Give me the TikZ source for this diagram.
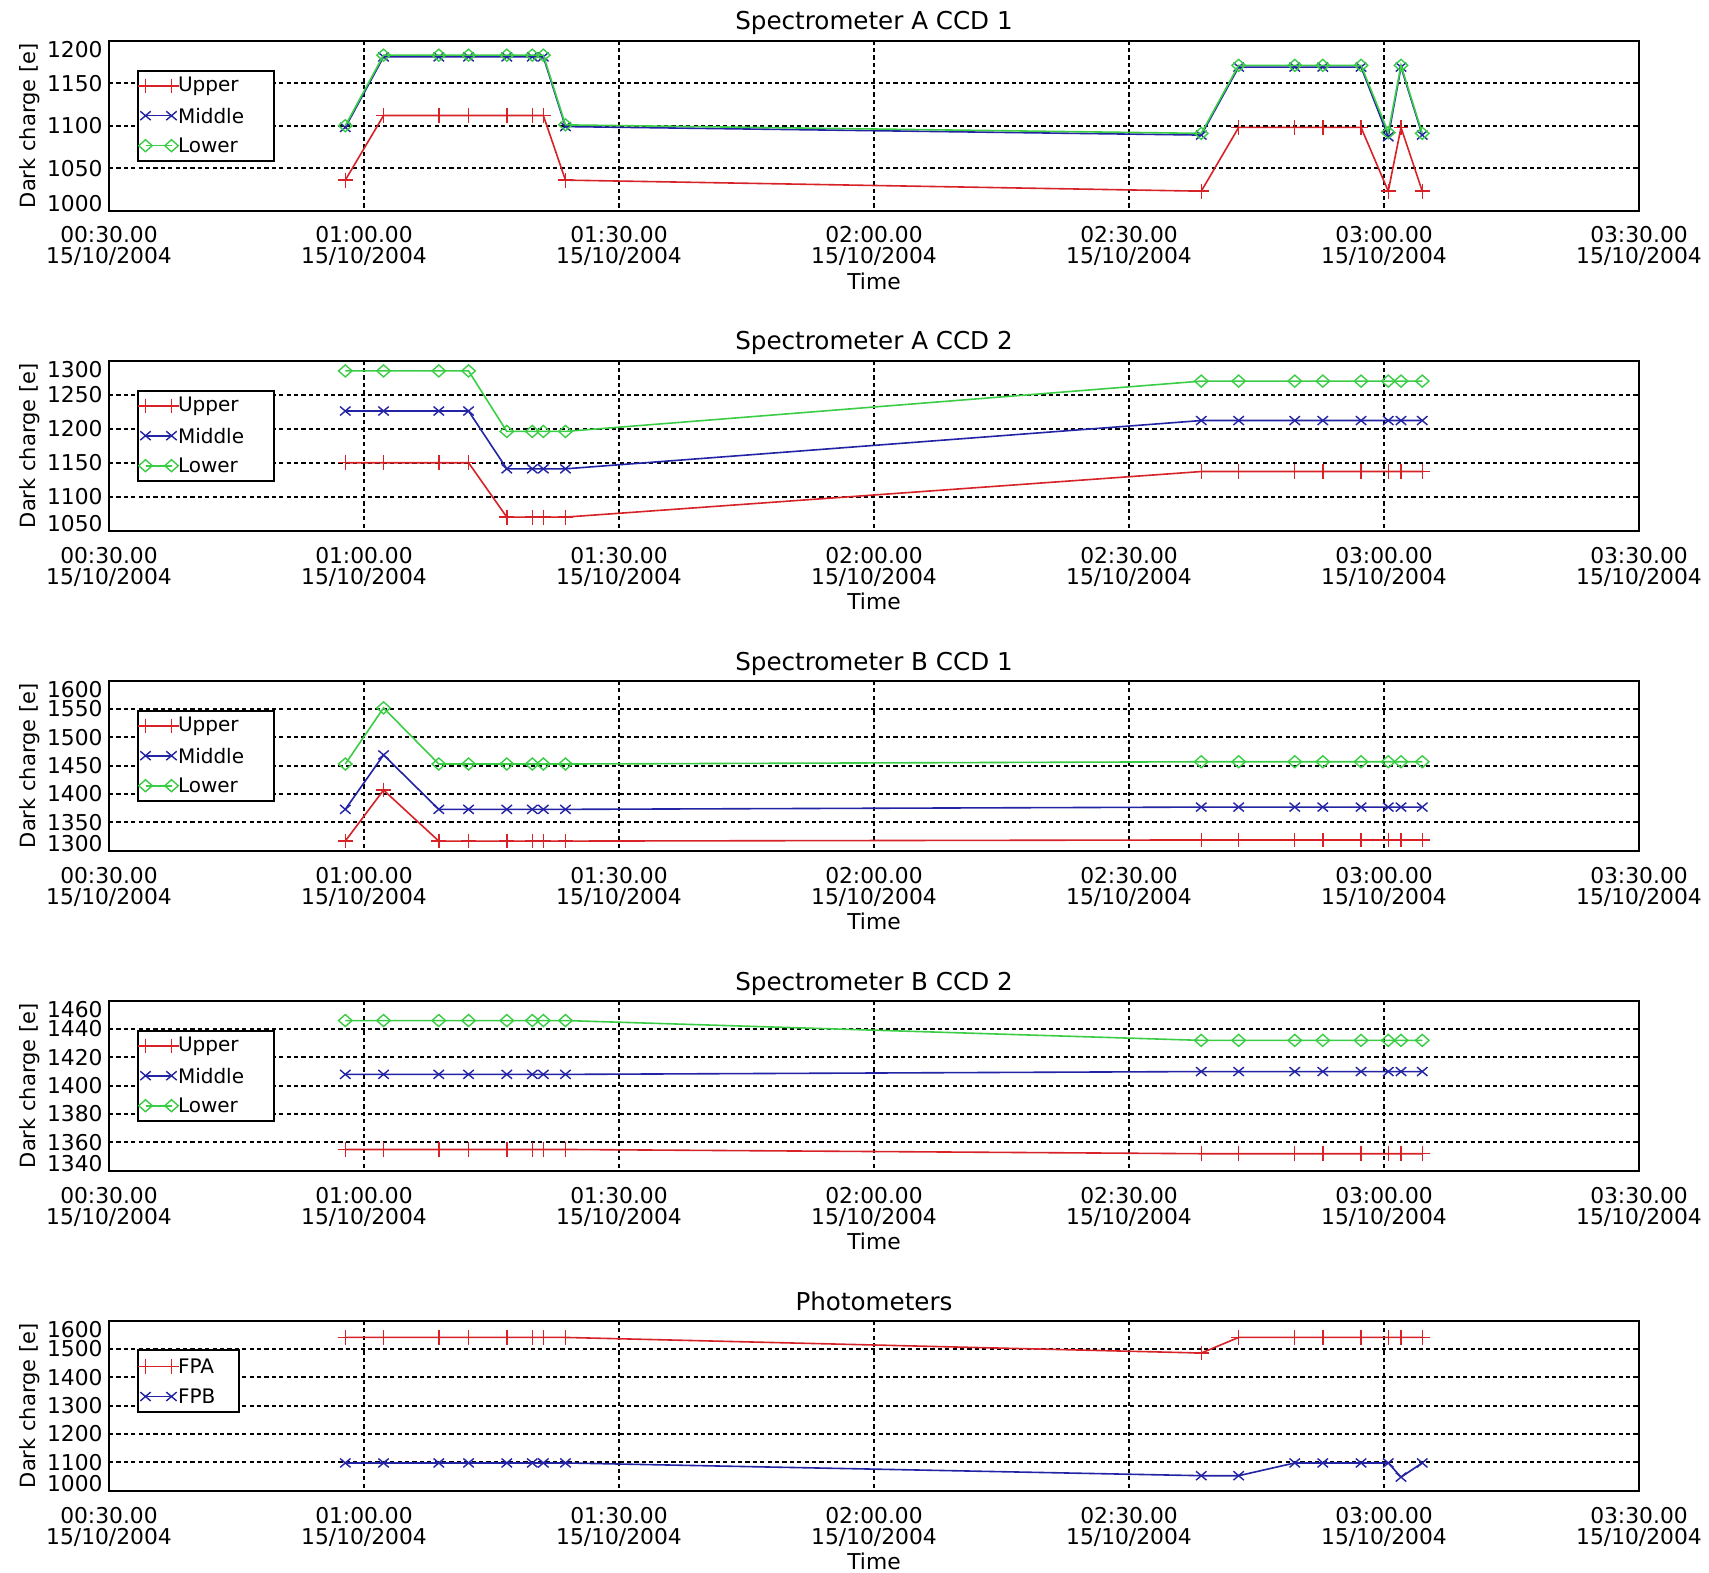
\documentclass[tikz,border=0pt]{standalone}
\usepackage{fontspec}
\setmainfont{DejaVu Sans}
\usetikzlibrary{plotmarks}
\definecolor{upperred}{RGB}{215,35,40}
\definecolor{middleblue}{RGB}{35,35,165}
\definecolor{lowergreen}{RGB}{60,205,70}
\tikzstyle{frame} = [draw=black, line width=1pt]
\tikzstyle{gridline} = [draw=black, line width=0.9pt, dash pattern=on 2.1pt off 1.6pt]
\tikzstyle{ticklabel} = [inner sep=0pt, anchor=base, font=\fontsize{10.9}{13}\selectfont]
\tikzstyle{valuelabel} = [inner sep=0pt, anchor=east, xshift=-3pt, font=\fontsize{10.9}{13}\selectfont]
\tikzstyle{titlelabel} = [inner sep=0pt, anchor=base, font=\fontsize{12.3}{14}\selectfont]
\tikzstyle{axislabel} = [inner sep=0pt, rotate=90, font=\fontsize{10.5}{13}\selectfont]
\tikzstyle{legendbox} = [draw=black, line width=1pt, fill=white]
\tikzstyle{legendtext} = [inner sep=0pt, anchor=west, font=\fontsize{10}{12}\selectfont]
\tikzstyle{upperline} = [draw=upperred, line width=0.8pt, mark=+, mark size=3.7pt, mark options={solid, line width=0.7pt}]
\tikzstyle{middleline} = [draw=middleblue, line width=0.8pt, mark=x, mark size=3.7pt, mark options={solid, line width=0.7pt, yscale=0.85}]
\tikzstyle{lowerline} = [draw=lowergreen, line width=0.8pt, mark=diamond, mark size=3pt, mark options={solid, line width=0.7pt, xscale=1.5}]
\tikzset{datascope/.style 2 args={shift={(-146,{210.7+170*(#1/(#2-#1))})}, x={(8.5,0)}, y={(0,{-170/(#2-#1)})}}}

% axes, grid and labels of one panel
\newcommand{\panelaxes}[5]{%
  \node[titlelabel] (#1title) at (874,30) {#2};
  \node[axislabel] (#1dark) at (29.6,125.7) {Dark charge [e]};
  \node[ticklabel] (#1time) at (874,289.7) {Time};
  \foreach \x/\tm [count=\i] in {109/00:30.00,364/01:00.00,619/01:30.00,874/02:00.00,1129/02:30.00,1384/03:00.00,1639/03:30.00} {
    \node[ticklabel] (#1hour\i) at (\x,243) {\tm};
    \node[ticklabel] (#1date\i) at (\x,264) {15/10/2004};
  }
  \foreach \x in {364,619,874,1129,1384}
    \draw[gridline] (\x,40.7) -- (\x,210.7);
  \begin{scope}[datascope={#3}{#4}]
    \foreach \v in {#5} {
      \draw[gridline] (30,\v) -- (210,\v);
      \node[valuelabel] (#1val\v) at (30,\v) {\v};
    }
    \node[valuelabel, yshift=-4.25pt] (#1valtop) at (30,#4) {#4};
    \node[valuelabel, yshift=3.5pt] (#1valbot) at (30,#3) {#3};
  \end{scope}
  \draw[frame] (109,40.7) rectangle (1639,210.7);
}

% legend with the three CCD rows
\newcommand{\threelegend}[1]{%
  \draw[legendbox] (138.3,70.7) rectangle (274.3,161.3);
  \draw[upperline] plot coordinates {(145.5,86) (171.5,86)};
  \node[legendtext] (#1upper) at (177.6,86) {Upper};
  \draw[middleline] plot coordinates {(145.5,115.7) (171.5,115.7)};
  \node[legendtext] (#1middle) at (177.6,115.7) {Middle};
  \draw[lowerline] plot coordinates {(145.5,145.7) (171.5,145.7)};
  \node[legendtext] (#1lower) at (177.6,145.7) {Lower};
}

\begin{document}
\begin{tikzpicture}[x=0.5pt, y=-0.5pt]
  \useasboundingbox (0,0) rectangle (1709,1573);
  \fill[white] (0,0) rectangle (1709,1573);

  % Spectrometer A CCD 1
  \begin{scope}
    \panelaxes{a}{Spectrometer A CCD 1}{1000}{1200}{1050,1100,1150}
    \threelegend{a}
    \begin{scope}[datascope={1000}{1200}]
      \draw[upperline] plot coordinates {(57.8,1036) (62.3,1112) (68.8,1112) (72.3,1112) (76.8,1112) (79.8,1112) (81.1,1112) (83.7,1036) (158.5,1023) (162.9,1098) (169.5,1098) (172.8,1098) (177.3,1098) (180.5,1023) (182,1098) (184.5,1023)};
      \draw[middleline] plot coordinates {(57.8,1098) (62.3,1181) (68.8,1181) (72.3,1181) (76.8,1181) (79.8,1181) (81.1,1181) (83.7,1099) (158.5,1089) (162.9,1169) (169.5,1169) (172.8,1169) (177.3,1169) (180.5,1087) (182,1169) (184.5,1089)};
      \draw[lowerline] plot coordinates {(57.8,1100) (62.3,1183) (68.8,1183) (72.3,1183) (76.8,1183) (79.8,1183) (81.1,1183) (83.7,1101) (158.5,1091) (162.9,1171) (169.5,1171) (172.8,1171) (177.3,1171) (180.5,1092) (182,1171) (184.5,1091)};
    \end{scope}
  \end{scope}

  % Spectrometer A CCD 2
  \begin{scope}[shift={(0,320)}]
    \panelaxes{b}{Spectrometer A CCD 2}{1050}{1300}{1100,1150,1200,1250}
    \threelegend{b}
    \begin{scope}[datascope={1050}{1300}]
      \draw[upperline] plot coordinates {(57.8,1150) (62.3,1150) (68.8,1150) (72.3,1150) (76.8,1070) (79.8,1070) (81.1,1070) (83.7,1070) (158.5,1137) (162.9,1137) (169.5,1137) (172.8,1137) (177.3,1137) (180.5,1137) (182,1137) (184.5,1137)};
      \draw[middleline] plot coordinates {(57.8,1226) (62.3,1226) (68.8,1226) (72.3,1226) (76.8,1141) (79.8,1141) (81.1,1141) (83.7,1141) (158.5,1212) (162.9,1212) (169.5,1212) (172.8,1212) (177.3,1212) (180.5,1212) (182,1212) (184.5,1212)};
      \draw[lowerline] plot coordinates {(57.8,1285) (62.3,1285) (68.8,1285) (72.3,1285) (76.8,1196) (79.8,1196) (81.1,1196) (83.7,1196) (158.5,1270) (162.9,1270) (169.5,1270) (172.8,1270) (177.3,1270) (180.5,1270) (182,1270) (184.5,1270)};
    \end{scope}
  \end{scope}

  % Spectrometer B CCD 1
  \begin{scope}[shift={(0,640)}]
    \panelaxes{c}{Spectrometer B CCD 1}{1300}{1600}{1350,1400,1450,1500,1550}
    \threelegend{c}
    \begin{scope}[datascope={1300}{1600}]
      \draw[upperline] plot coordinates {(57.8,1317) (62.3,1407) (68.8,1317) (72.3,1317) (76.8,1317) (79.8,1317) (81.1,1317) (83.7,1317) (158.5,1319) (162.9,1319) (169.5,1319) (172.8,1319) (177.3,1319) (180.5,1319) (182,1319) (184.5,1319)};
      \draw[middleline] plot coordinates {(57.8,1373) (62.3,1469) (68.8,1373) (72.3,1373) (76.8,1373) (79.8,1373) (81.1,1373) (83.7,1373) (158.5,1377) (162.9,1377) (169.5,1377) (172.8,1377) (177.3,1377) (180.5,1377) (182,1377) (184.5,1377)};
      \draw[lowerline] plot coordinates {(57.8,1453) (62.3,1552) (68.8,1453) (72.3,1453) (76.8,1453) (79.8,1453) (81.1,1453) (83.7,1453) (158.5,1457) (162.9,1457) (169.5,1457) (172.8,1457) (177.3,1457) (180.5,1457) (182,1457) (184.5,1457)};
    \end{scope}
  \end{scope}

  % Spectrometer B CCD 2
  \begin{scope}[shift={(0,960)}]
    \panelaxes{d}{Spectrometer B CCD 2}{1340}{1460}{1360,1380,1400,1420,1440}
    \threelegend{d}
    \begin{scope}[datascope={1340}{1460}]
      \draw[upperline] plot coordinates {(57.8,1355) (62.3,1355) (68.8,1355) (72.3,1355) (76.8,1355) (79.8,1355) (81.1,1355) (83.7,1355) (158.5,1352) (162.9,1352) (169.5,1352) (172.8,1352) (177.3,1352) (180.5,1352) (182,1352) (184.5,1352)};
      \draw[middleline] plot coordinates {(57.8,1408) (62.3,1408) (68.8,1408) (72.3,1408) (76.8,1408) (79.8,1408) (81.1,1408) (83.7,1408) (158.5,1410) (162.9,1410) (169.5,1410) (172.8,1410) (177.3,1410) (180.5,1410) (182,1410) (184.5,1410)};
      \draw[lowerline] plot coordinates {(57.8,1446) (62.3,1446) (68.8,1446) (72.3,1446) (76.8,1446) (79.8,1446) (81.1,1446) (83.7,1446) (158.5,1432) (162.9,1432) (169.5,1432) (172.8,1432) (177.3,1432) (180.5,1432) (182,1432) (184.5,1432)};
    \end{scope}
  \end{scope}

  % Photometers
  \begin{scope}[shift={(0,1280)}]
    \panelaxes{e}{Photometers}{1000}{1600}{1100,1200,1300,1400,1500}
    \draw[legendbox] (138.3,70) rectangle (238.7,132);
    \draw[upperline] plot coordinates {(145.5,86.5) (171.5,86.5)};
    \node[legendtext] (efpa) at (177.6,86.5) {FPA};
    \draw[middleline] plot coordinates {(145.5,116.5) (171.5,116.5)};
    \node[legendtext] (efpb) at (177.6,116.5) {FPB};
    \begin{scope}[datascope={1000}{1600}]
      \draw[upperline] plot coordinates {(57.8,1541) (62.3,1541) (68.8,1541) (72.3,1541) (76.8,1541) (79.8,1541) (81.1,1541) (83.7,1541) (158.5,1486) (162.9,1541) (169.5,1541) (172.8,1541) (177.3,1541) (180.5,1541) (182,1541) (184.5,1541)};
      \draw[middleline] plot coordinates {(57.8,1098) (62.3,1098) (68.8,1098) (72.3,1098) (76.8,1098) (79.8,1098) (81.1,1098) (83.7,1098) (158.5,1053) (162.9,1053) (169.5,1098) (172.8,1098) (177.3,1098) (180.5,1098) (182,1048) (184.5,1098)};
    \end{scope}
  \end{scope}
\end{tikzpicture}
\end{document}
